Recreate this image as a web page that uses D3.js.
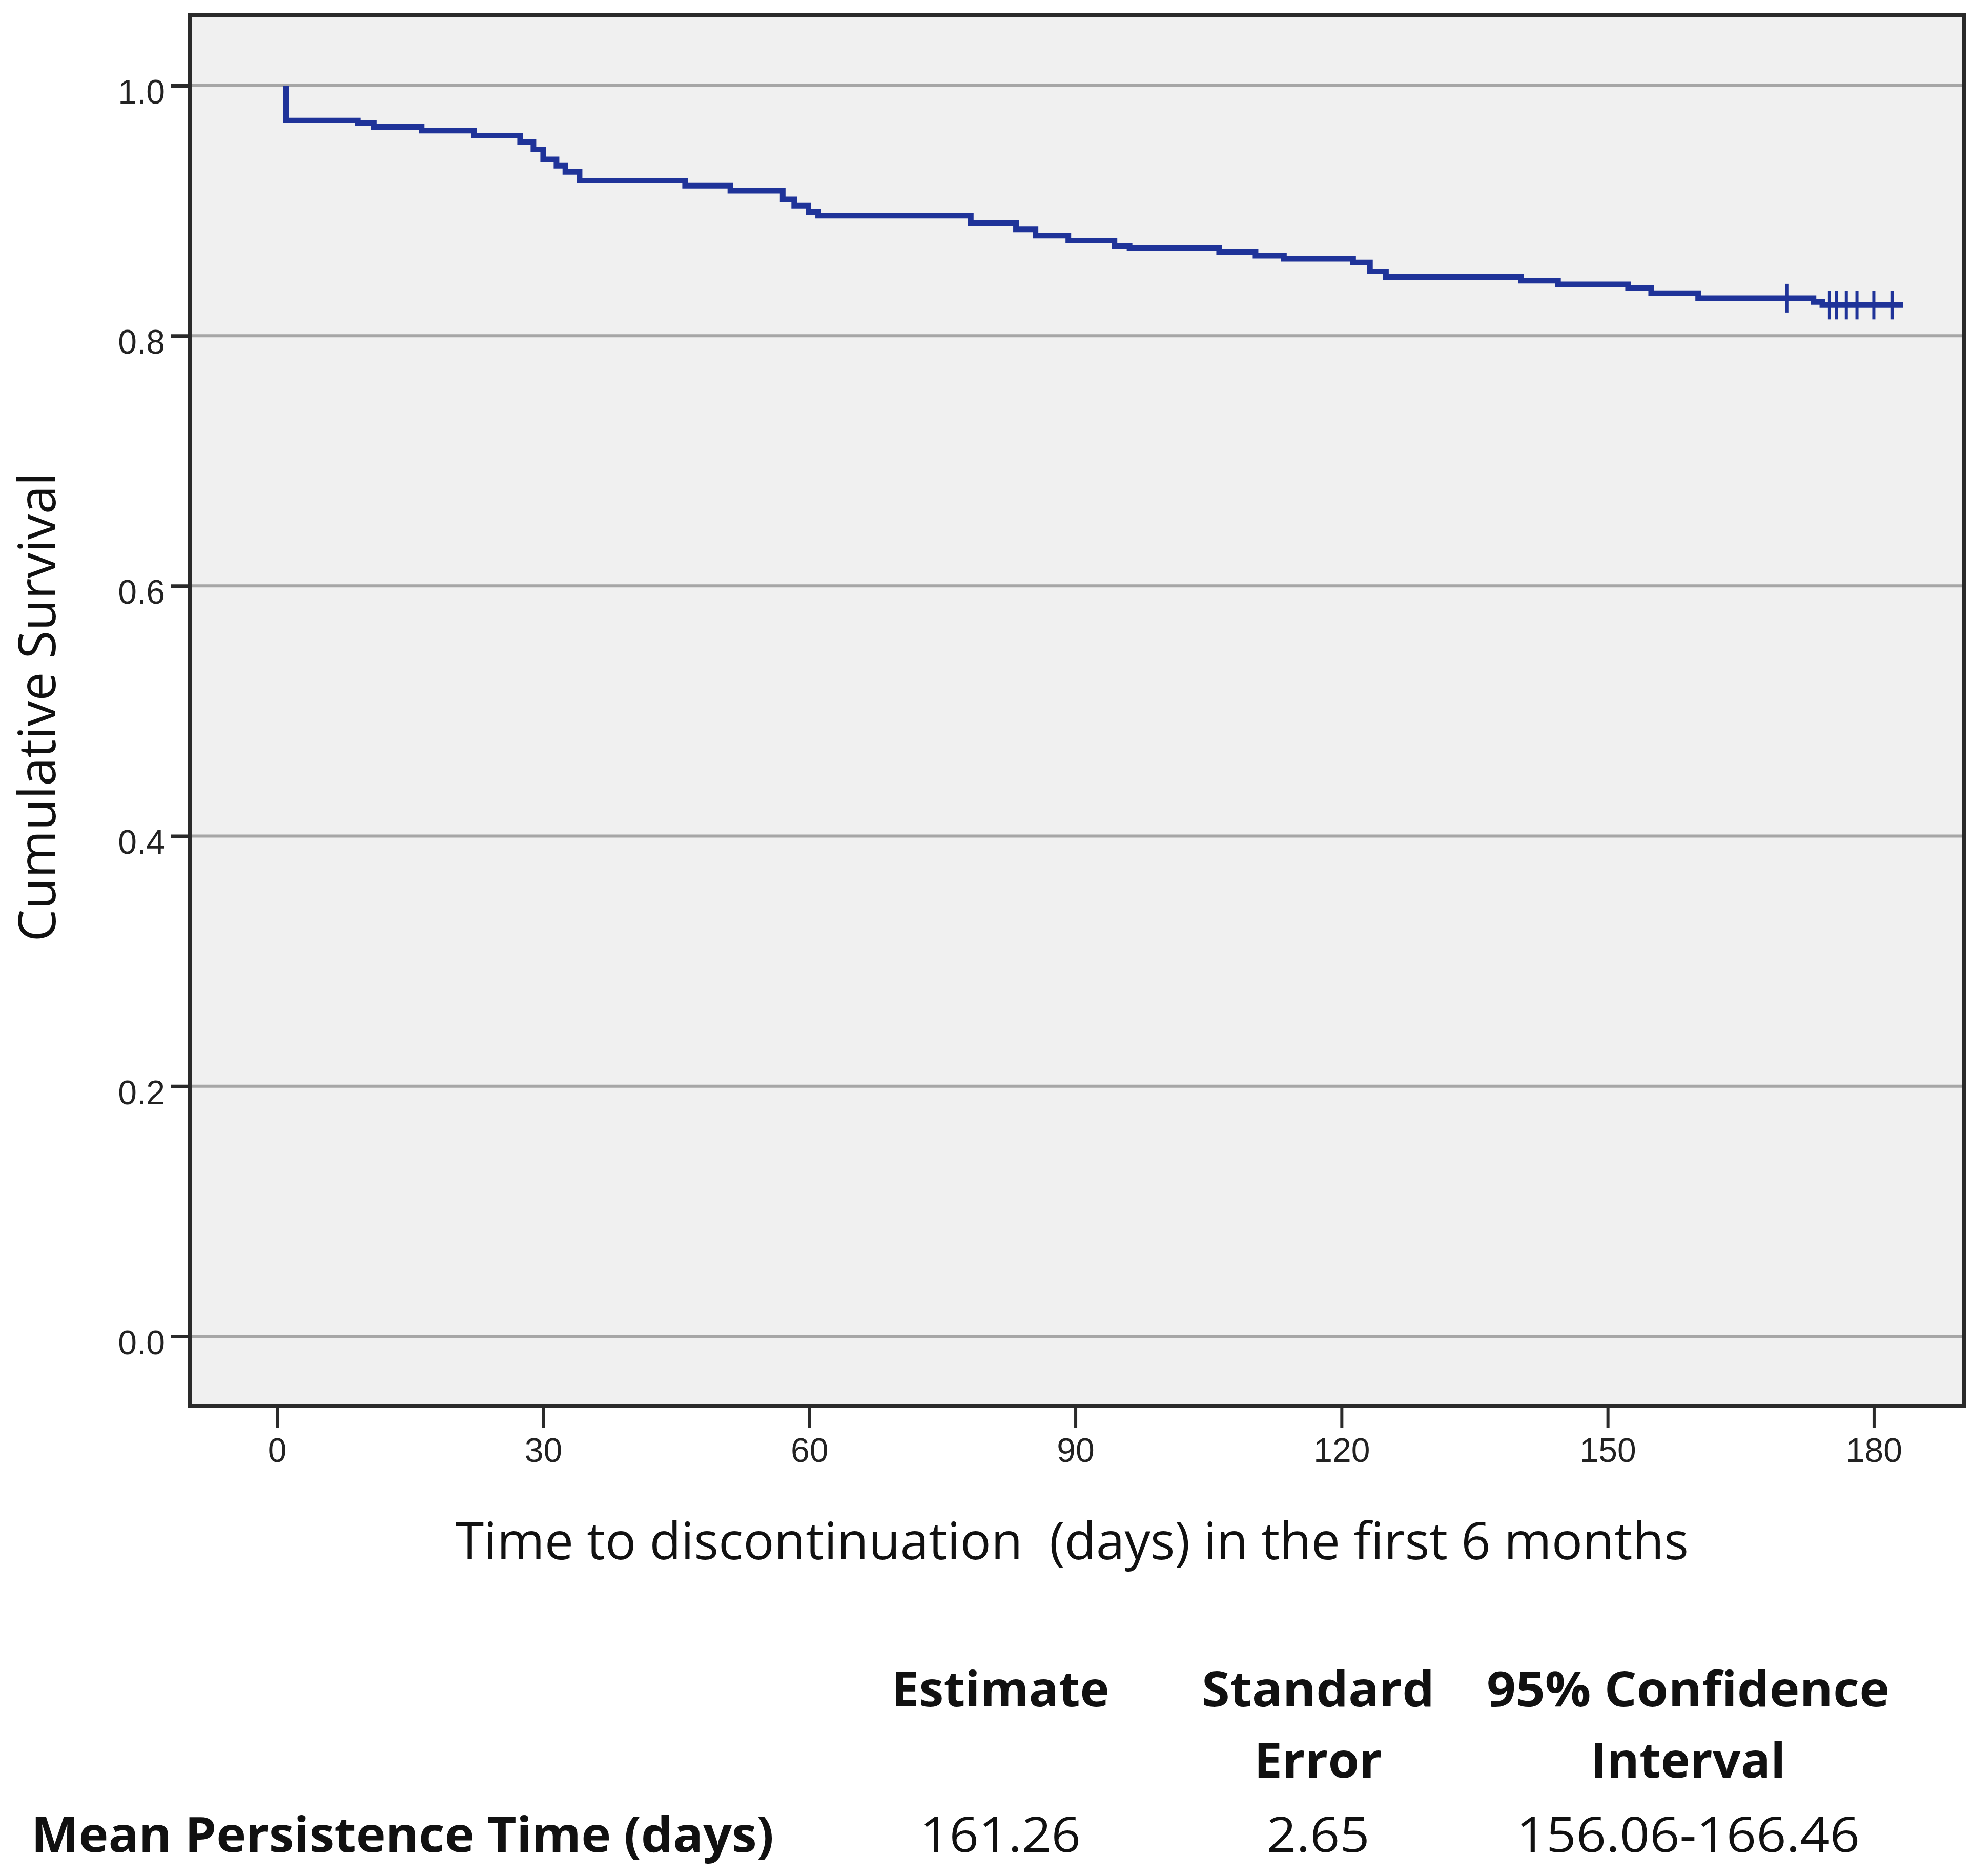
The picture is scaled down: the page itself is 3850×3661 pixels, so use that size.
<!DOCTYPE html>
<html lang="en">
<head>
    <meta charset="UTF-8">
    <title>Time to discontinuation - Kaplan-Meier</title>
    <script src="https://cdn.jsdelivr.net/npm/d3@7"></script>
    <style>
        body {margin: 0; background: white;}
        .tick text {font-family: "Liberation Sans", Arial, sans-serif;}
        .title {font-family: "Open Sans", sans-serif; white-space: pre;}
    </style>
</head>
<body>
<script>
    const width = 3850;
    const height = 3661;

    // Kaplan-Meier steps: time of event (days) and survival after it
    const eventDays = [1, 9.1, 10.9, 16.3, 22.2, 27.4, 28.9, 30.0, 31.5, 32.5, 34.1, 46.0, 51.1,
                       57.0, 58.3, 59.9, 61.0, 78.2, 83.3, 85.5, 89.2, 94.4, 96.1, 106.2, 110.3,
                       113.5, 121.3, 123.2, 125.0, 140.2, 144.4, 152.3, 154.9, 160.2, 173.2, 174.2];
    const survival  = [0.972, 0.970, 0.967, 0.964, 0.960, 0.955, 0.949, 0.941, 0.936, 0.931, 0.924, 0.920, 0.916,
                       0.909, 0.904, 0.899, 0.896, 0.890, 0.885, 0.880, 0.876, 0.872, 0.870, 0.867, 0.864,
                       0.8615, 0.8585, 0.8515, 0.847, 0.844, 0.841, 0.838, 0.834, 0.830, 0.827, 0.8245];
    const startDay = 1;
    const lastDay = 183.3;
    const censoredDays = [170.2, 175.0, 175.8, 176.9, 178.1, 180.0, 182.1];

    const xTicks = [0, 30, 60, 90, 120, 150, 180];
    const yTicks = [0, 0.2, 0.4, 0.6, 0.8, 1.0];

    const xTitle = "Time to discontinuation  (days) in the first 6 months";
    const yTitle = "Cumulative Survival";

    const tableHeaderTop = ["Estimate", "Standard", "95% Confidence"];
    const tableHeaderBottom = ["", "Error", "Interval"];
    const rowLabel = "Mean Persistence Time (days)";
    const rowValues = ["161.26", "2.65", "156.06-166.46"];

    const frame = {left: 371, right: 3833, top: 29, bottom: 2743};

    const svg = d3.select("body").append("svg")
        .attr("width", width).attr("height", height)
        .style("background", "white");

    const x = d3.scaleLinear().domain([-9.8, 190.2]).range([frame.left, frame.right]);
    const y = d3.scaleLinear().domain([-0.0553, 1.0565]).range([frame.bottom, frame.top]);

    // plot background
    svg.append("rect")
        .attr("x", frame.left).attr("y", frame.top)
        .attr("width", frame.right - frame.left).attr("height", frame.bottom - frame.top)
        .attr("fill", "#f0f0f0");

    // gridlines
    svg.append("g").attr("class", "grid")
        .selectAll("line")
        .data(yTicks)
        .join("line")
        .attr("x1", frame.left).attr("x2", frame.right)
        .attr("y1", d => y(d)).attr("y2", d => y(d))
        .attr("stroke", "#a6a6a6")
        .attr("stroke-width", 6);

    // survival curve
    const steps = [[startDay, 1.0]]
        .concat(eventDays.map((d, i) => [d, survival[i]]))
        .concat([[lastDay, survival[survival.length - 1]]]);

    const line = d3.line()
        .x(d => x(d[0]))
        .y(d => y(d[1]))
        .curve(d3.curveStepAfter);

    svg.append("path")
        .datum(steps)
        .attr("d", line)
        .attr("fill", "none")
        .attr("stroke", "#1f3399")
        .attr("stroke-width", 11)
        .attr("stroke-linejoin", "miter");

    // censor marks
    function survivalAt(t) {
        let s = 1.0;
        eventDays.forEach((d, i) => { if (d <= t) s = survival[i]; });
        return s;
    }
    svg.append("g").attr("class", "censor")
        .selectAll("line")
        .data(censoredDays)
        .join("line")
        .attr("x1", d => x(d)).attr("x2", d => x(d))
        .attr("y1", d => y(survivalAt(d)) - 28)
        .attr("y2", d => y(survivalAt(d)) + 28)
        .attr("stroke", "#1f3399")
        .attr("stroke-width", 6);

    // frame
    svg.append("rect")
        .attr("x", frame.left).attr("y", frame.top)
        .attr("width", frame.right - frame.left).attr("height", frame.bottom - frame.top)
        .attr("fill", "none")
        .attr("stroke", "#2a2a2a")
        .attr("stroke-width", 8);

    // axes
    const yAxis = svg.append("g")
        .attr("transform", `translate(${frame.left},0)`)
        .call(d3.axisLeft(y).tickValues(yTicks).tickFormat(d3.format(".1f"))
            .tickSize(38).tickPadding(11));
    yAxis.select(".domain").remove();
    yAxis.selectAll(".tick line").attr("stroke", "#2a2a2a").attr("stroke-width", 7);
    yAxis.selectAll(".tick text")
        .attr("dy", "0.52em")
        .style("font-size", "66px")
        .attr("fill", "#222");

    const xAxis = svg.append("g")
        .attr("transform", `translate(0,${frame.bottom})`)
        .call(d3.axisBottom(x).tickValues(xTicks).tickSize(44).tickPadding(19));
    xAxis.select(".domain").remove();
    xAxis.selectAll(".tick line").attr("stroke", "#2a2a2a").attr("stroke-width", 6);
    xAxis.selectAll(".tick text")
        .style("font-size", "66px")
        .attr("fill", "#222");

    // fit a text element to a target width
    function fit(sel, w) {
        const len = sel.node().getComputedTextLength();
        if (Math.abs(len - w) > 4) {
            sel.attr("textLength", w).attr("lengthAdjust", "spacingAndGlyphs");
        }
        return sel;
    }

    // axis titles
    fit(svg.append("text").attr("class", "title")
        .attr("x", 2092).attr("y", 3043)
        .attr("text-anchor", "middle")
        .style("font-size", "100px")
        .attr("fill", "#111")
        .text(xTitle), 2406);

    fit(svg.append("text").attr("class", "title")
        .attr("transform", "translate(108,1380) rotate(-90)")
        .attr("text-anchor", "middle")
        .style("font-size", "100px")
        .attr("fill", "#111")
        .text(yTitle), 916);

    // summary table
    const colCenters = [1952, 2572, 3294];
    const headTopW = [425, 454, 786];
    const headBotW = [0, 250, 381];
    const valueW = [314, 201, 670];

    const table = svg.append("g").attr("class", "table")
        .style("font-family", "'Open Sans', sans-serif")
        .style("font-size", "95px")
        .attr("fill", "#111");

    tableHeaderTop.forEach((t, i) => {
        fit(table.append("text").attr("x", colCenters[i]).attr("y", 3330)
            .attr("text-anchor", "middle").style("font-weight", "bold").text(t), headTopW[i]);
    });
    tableHeaderBottom.forEach((t, i) => {
        if (!t) return;
        fit(table.append("text").attr("x", colCenters[i]).attr("y", 3469)
            .attr("text-anchor", "middle").style("font-weight", "bold").text(t), headBotW[i]);
    });
    fit(table.append("text").attr("x", 61).attr("y", 3614)
        .style("font-weight", "bold").text(rowLabel), 1449);
    rowValues.forEach((t, i) => {
        fit(table.append("text").attr("x", colCenters[i]).attr("y", 3614)
            .attr("text-anchor", "middle").text(t), valueW[i]);
    });
</script>
</body>
</html>
